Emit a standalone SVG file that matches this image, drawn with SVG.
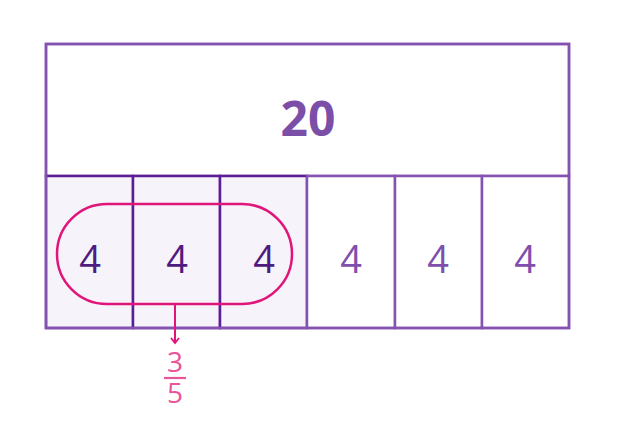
<svg xmlns="http://www.w3.org/2000/svg" width="630" height="445" viewBox="0 0 630 445">
<style>
.cell{fill:#ffffff;stroke:#8452b0;stroke-width:2.5}
.shaded{fill:#f7f3fb;stroke:#5a1f96;stroke-width:2.5}
.num{font-family:"Open Sans","Noto Sans",sans-serif;font-size:38px;text-anchor:middle}
.lt{fill:#7f4fad}
.dk{fill:#4e1c80}
.frac{font-family:"Open Sans","Noto Sans",sans-serif;font-size:28px;text-anchor:middle;fill:#e8559a}
</style>
<defs>
<marker id="arr" markerWidth="10" markerHeight="10" refX="8" refY="5" orient="auto" markerUnits="userSpaceOnUse">
<path d="M3,1 L8,5 L3,9" fill="none" stroke="#e0157a" stroke-width="1.8"/>
</marker>
</defs>
<rect width="630" height="445" fill="#ffffff"/>
<g id="whole">
<rect class="cell" x="46" y="44" width="523" height="132"/>
<text x="308" y="136" font-family="Open Sans, Noto Sans, sans-serif" font-size="48" font-weight="bold" fill="#7b4ea8" text-anchor="middle">20</text>
</g>
<g id="cell1"><rect class="shaded" x="46" y="176" width="87" height="152"/><text class="num dk" x="90" y="273">4</text></g>
<g id="cell2"><rect class="shaded" x="133" y="176" width="87" height="152"/><text class="num dk" x="177" y="273">4</text></g>
<g id="cell3"><rect class="shaded" x="220" y="176" width="87" height="152"/><text class="num dk" x="264" y="273">4</text></g>
<g id="cell4"><rect class="cell" x="307" y="176" width="88" height="152"/><text class="num lt" x="351" y="273">4</text></g>
<g id="cell5"><rect class="cell" x="395" y="176" width="87" height="152"/><text class="num lt" x="438" y="273">4</text></g>
<g id="cell6"><rect class="cell" x="482" y="176" width="87" height="152"/><text class="num lt" x="525" y="273">4</text></g>
<g id="outline"><rect x="46" y="44" width="523" height="284" fill="none" stroke="#8452b0" stroke-width="2.5"/></g>
<g id="selection"><rect x="57" y="204" width="235" height="100" rx="50" ry="50" fill="none" stroke="#e0157a" stroke-width="2.5"/></g>
<g id="connectors"><line x1="175" y1="304" x2="175" y2="343" stroke="#e0157a" stroke-width="2" marker-end="url(#arr)"/></g>
<g id="fraction">
<text class="frac" x="175" y="372">3</text>
<line x1="164" y1="378" x2="186" y2="378" stroke="#e8559a" stroke-width="2.2"/>
<text class="frac" x="175" y="403">5</text>
</g>
</svg>
